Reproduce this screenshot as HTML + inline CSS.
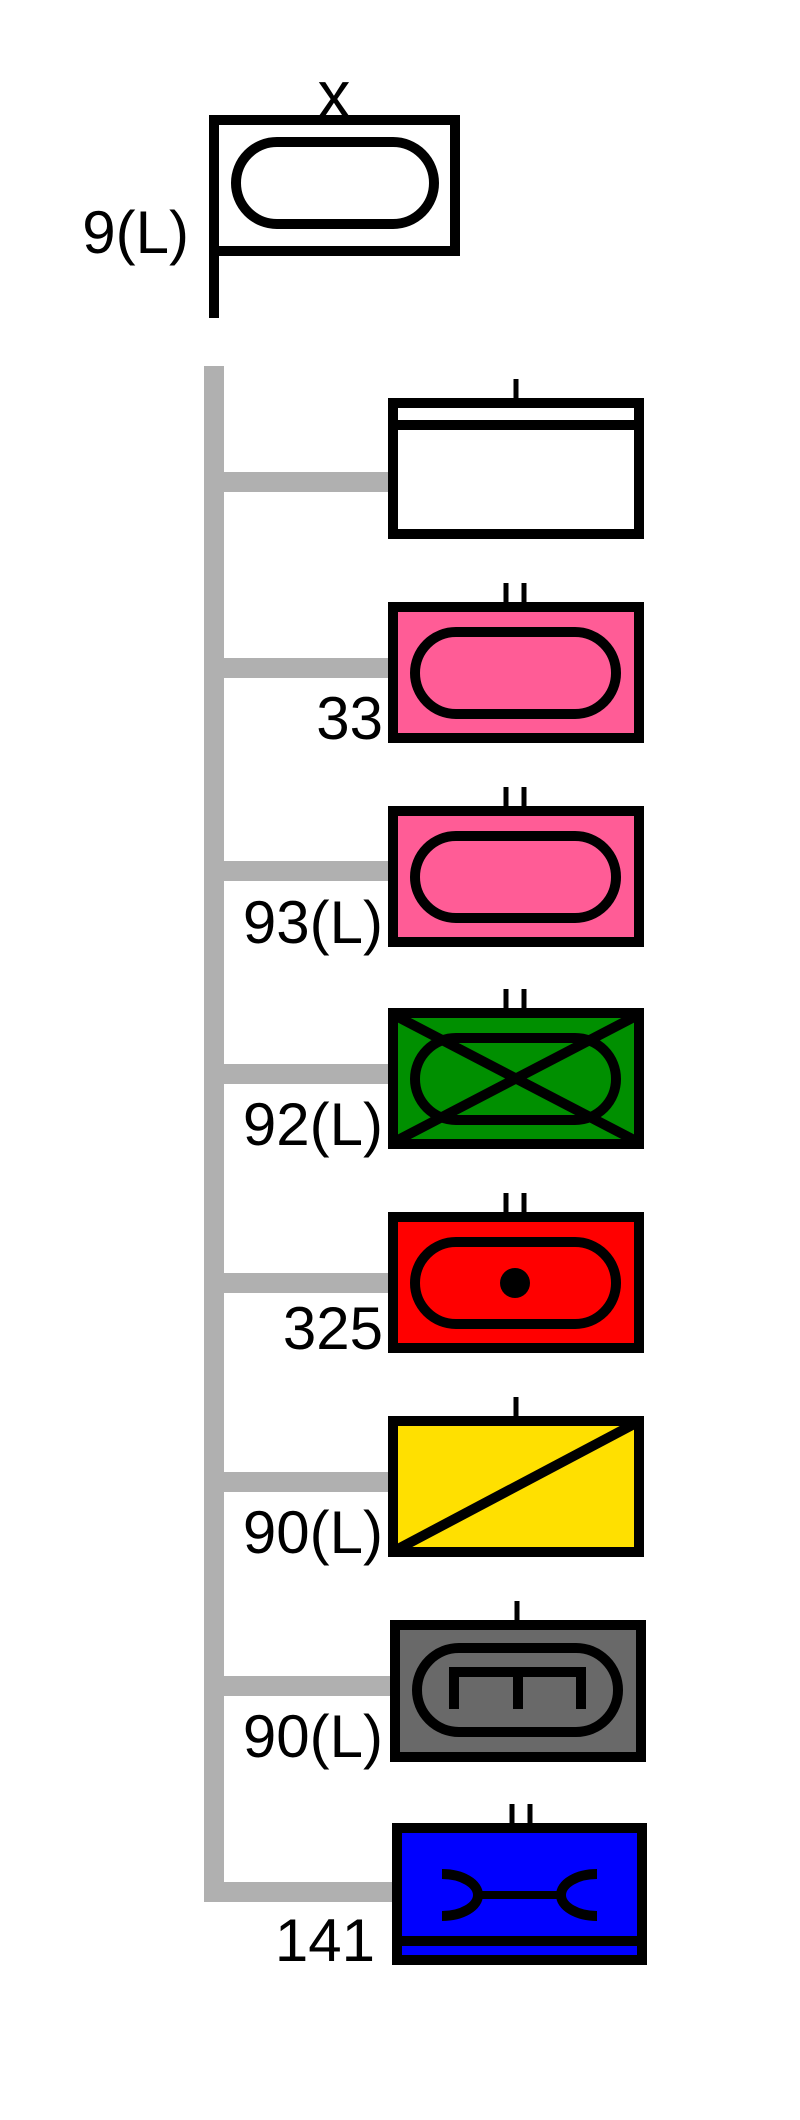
<!DOCTYPE html>
<html><head><meta charset="utf-8"><style>
html,body{margin:0;padding:0;background:#fff;}
svg{display:block;}
text{font-family:"Liberation Sans",Arial,sans-serif;fill:#000;}
</style></head><body>
<svg width="800" height="2120" viewBox="0 0 800 2120" xmlns="http://www.w3.org/2000/svg">
<!-- top unit -->
<text x="334" y="117" font-size="66" text-anchor="middle">x</text>
<rect x="214" y="120" width="241" height="131" fill="#fff" stroke="#000" stroke-width="10"/>
<line x1="214" y1="250" x2="214" y2="318" stroke="#000" stroke-width="10"/>
<rect x="236" y="142" width="198" height="82" rx="41" fill="none" stroke="#000" stroke-width="10"/>
<text x="189" y="253" font-size="60" text-anchor="end">9(L)</text>

<!-- trunk -->
<rect x="204" y="366" width="20" height="1536" fill="#b0b0b0"/>
<g fill="#b0b0b0">
<rect x="214" y="472" width="176" height="20"/>
<rect x="214" y="658" width="176" height="20"/>
<rect x="214" y="861" width="176" height="20"/>
<rect x="214" y="1064" width="176" height="20"/>
<rect x="214" y="1273" width="176" height="20"/>
<rect x="214" y="1472" width="176" height="20"/>
<rect x="214" y="1676" width="176" height="20"/>
<rect x="214" y="1882" width="180" height="20"/>
</g>

<!-- box 0 white -->
<line x1="516" y1="379" x2="516" y2="398" stroke="#000" stroke-width="5"/>
<rect x="393" y="403" width="246" height="131" fill="#fff" stroke="#000" stroke-width="10"/>
<line x1="393" y1="425" x2="639" y2="425" stroke="#000" stroke-width="10"/>

<!-- box 1 pink -->
<line x1="506" y1="583" x2="506" y2="602" stroke="#000" stroke-width="5"/>
<line x1="524" y1="583" x2="524" y2="602" stroke="#000" stroke-width="5"/>
<rect x="393" y="607" width="246" height="131" fill="#ff5c96" stroke="#000" stroke-width="10"/>
<rect x="415" y="632" width="201" height="82" rx="41" fill="none" stroke="#000" stroke-width="10"/>
<text x="383" y="739" font-size="60" text-anchor="end">33</text>

<!-- box 2 pink -->
<line x1="506" y1="787" x2="506" y2="806" stroke="#000" stroke-width="5"/>
<line x1="524" y1="787" x2="524" y2="806" stroke="#000" stroke-width="5"/>
<rect x="393" y="811" width="246" height="131" fill="#ff5c96" stroke="#000" stroke-width="10"/>
<rect x="415" y="836" width="201" height="82" rx="41" fill="none" stroke="#000" stroke-width="10"/>
<text x="383" y="943" font-size="60" text-anchor="end">93(L)</text>

<!-- box 3 green -->
<line x1="506" y1="989" x2="506" y2="1008" stroke="#000" stroke-width="5"/>
<line x1="524" y1="989" x2="524" y2="1008" stroke="#000" stroke-width="5"/>
<rect x="393" y="1013" width="246" height="131" fill="#008f00" stroke="#000" stroke-width="10"/>
<rect x="415" y="1038" width="201" height="82" rx="41" fill="none" stroke="#000" stroke-width="10"/>
<line x1="396" y1="1016" x2="636" y2="1141" stroke="#000" stroke-width="10"/>
<line x1="396" y1="1141" x2="636" y2="1016" stroke="#000" stroke-width="10"/>
<text x="383" y="1145" font-size="60" text-anchor="end">92(L)</text>

<!-- box 4 red -->
<line x1="506" y1="1193" x2="506" y2="1212" stroke="#000" stroke-width="5"/>
<line x1="524" y1="1193" x2="524" y2="1212" stroke="#000" stroke-width="5"/>
<rect x="393" y="1217" width="246" height="131" fill="#ff0000" stroke="#000" stroke-width="10"/>
<rect x="415" y="1242" width="201" height="82" rx="41" fill="none" stroke="#000" stroke-width="10"/>
<circle cx="515" cy="1283" r="15" fill="#000"/>
<text x="383" y="1349" font-size="60" text-anchor="end">325</text>

<!-- box 5 yellow -->
<line x1="516" y1="1397" x2="516" y2="1416" stroke="#000" stroke-width="5"/>
<rect x="393" y="1421" width="246" height="131" fill="#ffe000" stroke="#000" stroke-width="10"/>
<line x1="396" y1="1550" x2="636" y2="1423" stroke="#000" stroke-width="10"/>
<text x="383" y="1553" font-size="60" text-anchor="end">90(L)</text>

<!-- box 6 gray -->
<line x1="517" y1="1601" x2="517" y2="1620" stroke="#000" stroke-width="5"/>
<rect x="395" y="1625" width="246" height="132" fill="#696969" stroke="#000" stroke-width="10"/>
<rect x="417" y="1648" width="201" height="84" rx="42" fill="none" stroke="#000" stroke-width="10"/>
<path d="M454 1709 V1672 H581 V1709 M518 1672 V1709" fill="none" stroke="#000" stroke-width="10"/>
<text x="383" y="1757" font-size="60" text-anchor="end">90(L)</text>

<!-- box 7 blue -->
<line x1="512" y1="1804" x2="512" y2="1823" stroke="#000" stroke-width="5"/>
<line x1="530" y1="1804" x2="530" y2="1823" stroke="#000" stroke-width="5"/>
<rect x="397" y="1828" width="245" height="132" fill="#0000ff" stroke="#000" stroke-width="10"/>
<line x1="397" y1="1941" x2="642" y2="1941" stroke="#000" stroke-width="10"/>
<path d="M442 1874 A36 21 0 0 1 442 1916" fill="none" stroke="#000" stroke-width="10"/>
<path d="M597 1874 A36 21 0 0 0 597 1916" fill="none" stroke="#000" stroke-width="10"/>
<line x1="478" y1="1895" x2="561" y2="1895" stroke="#000" stroke-width="8"/>
<text x="375" y="1961" font-size="60" text-anchor="end">141</text>
</svg>
</body></html>
